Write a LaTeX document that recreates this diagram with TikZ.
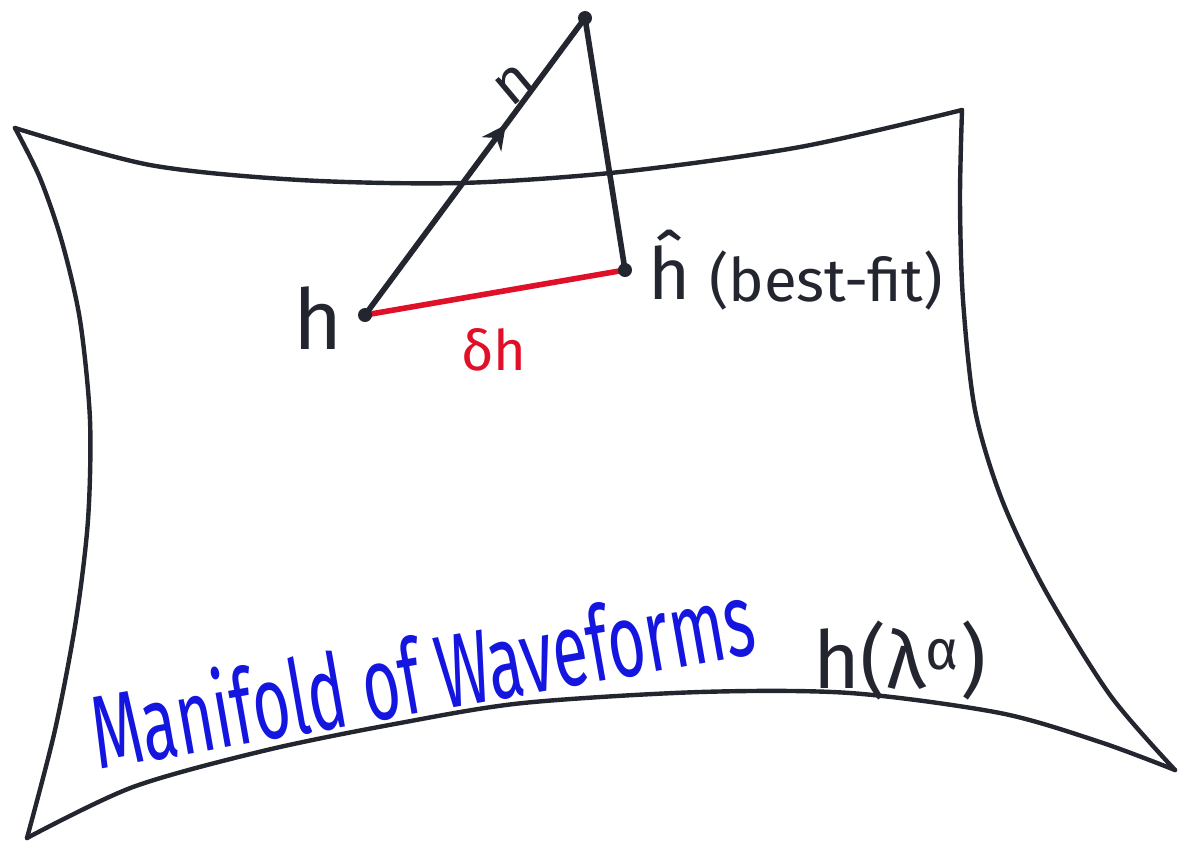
\documentclass[tikz,border=0pt]{standalone}
\usepackage{fontspec}
\setmainfont{Fira Sans}
\usetikzlibrary{arrows.meta,decorations.markings}
\definecolor{inkblack}{HTML}{23252F}
\definecolor{inkred}{HTML}{E01028}
\definecolor{inkblue}{HTML}{1515E0}

\begin{document}
\begin{tikzpicture}[x=0.5pt,y=-0.5pt,>=Stealth,
  pen/.style={inkblack,line width=2.8pt,line cap=round},
  rim/.style={inkblack,line width=2.2pt,line cap=round,line join=round},
  dotmark/.style={circle,fill=inkblack,inner sep=0pt,minimum size=7pt},
  midarrow/.style={postaction=decorate,decoration={markings,
    mark=at position #1 with {\arrow{Stealth[length=12pt,width=12pt]}}}}]
  \useasboundingbox (0,0) rectangle (1179,848);
  % manifold outline
  \draw[rim] plot[smooth] coordinates
    {(15,128) (150,165) (300,180) (460,183) (620,172) (800,147) (962,110)};
  \draw[rim] plot[smooth] coordinates
    {(962,110) (960,200) (963,300) (975,410) (1002,500) (1045,590) (1110,695) (1175,770)};
  \draw[rim] plot[smooth] coordinates
    {(27,838) (133,787) (267,750) (400,723) (523,703) (700,692) (850,693) (1000,713) (1100,742) (1175,770)};
  \draw[rim] plot[smooth] coordinates
    {(15,128) (40,178) (62,242) (80,320) (90,420) (88,520) (76,620) (55,730) (27,838)};
  % points
  \coordinate (h) at (365,315);
  \coordinate (hhat) at (625,270);
  \coordinate (tip) at (585,18);
  \draw[pen,midarrow=0.64] (h) -- (tip);
  \draw[pen] (tip) -- (hhat);
  \draw[inkred,line width=2.8pt] (h) -- (hhat);
  \node[dotmark] at (h) {};
  \node[dotmark] at (hhat) {};
  \node[dotmark] at (tip) {};
  % labels
  \node[inkblack,font=\fontsize{42}{48}\selectfont] (hlabel) at (318,318) {h};
  \node[inkred,font=\fontsize{28}{34}\selectfont] (dh) at (494,350) {δh};
  \node[inkblack,font=\fontsize{36}{42}\selectfont] (hhatlabel) at (670,265) {ĥ};
  \node[inkblack,font=\fontsize{30}{36}\selectfont] (bestfit) at (826,280) {(best-fit)};
  \node[inkblack,rotate=40,font=\fontsize{30}{36}\selectfont] (nlabel) at (515,85) {n};
  \node[inkblue,anchor=base west,inner sep=0pt,rotate=10,xscale=0.62,
    font=\fontsize{52}{58}\selectfont] (manifold) at (98,770) {Manifold of Waveforms};
  \node[inkblack,font=\fontsize{40}{46}\selectfont] (param) at (900,660) {h(λ\textsuperscript{α})};
\end{tikzpicture}
\end{document}
